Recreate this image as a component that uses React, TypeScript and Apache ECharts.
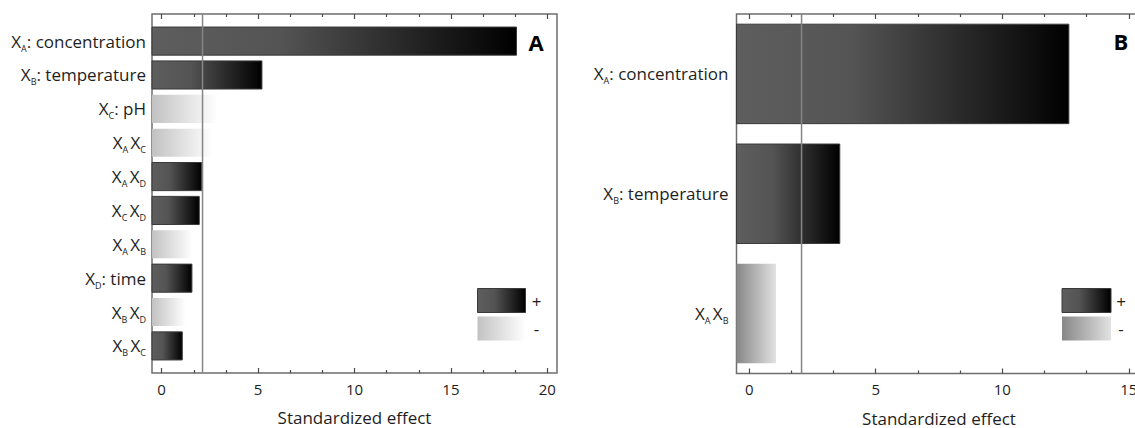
import React, { useEffect, useRef } from "react";
import * as echarts from "echarts";

// ---------- data ----------
const labelsA = [
  "X{s|A}: concentration",
  "X{s|B}: temperature",
  "X{s|C}: pH",
  "X{s|A }X{s|C}",
  "X{s|A }X{s|D}",
  "X{s|C }X{s|D}",
  "X{s|A }X{s|B}",
  "X{s|D}: time",
  "X{s|B }X{s|D}",
  "X{s|B }X{s|C}",
];
const valuesA = [18.4, 5.2, 2.9, 2.65, 2.08, 1.95, 1.62, 1.57, 1.25, 1.07];
const signsA = ["+", "+", "-", "-", "+", "+", "-", "+", "-", "+"];
const refA = 2.12;

const labelsB = ["X{s|A}: concentration", "X{s|B}: temperature", "X{s|A }X{s|B}"];
const valuesB = [12.63, 3.58, 1.06];
const signsB = ["+", "+", "-"];
const refB = 2.07;

const majorTicksA = [0, 5, 10, 15, 20];
const minorTicksA = [1.667, 3.333, 6.667, 8.333, 11.667, 13.333, 16.667, 18.333];
const majorTicksB = [0, 5, 10, 15];
const minorTicksB = [1.667, 3.333, 6.667, 8.333, 11.667, 13.333];

const axisTitle = "Standardized effect";

// ---------- styles ----------
const FONT = "'Open Sans', 'DejaVu Sans', sans-serif";
const TEXT = "#1e1e1e";
const FRAME = "#6e6e6e";
const BAR_H = 0.83;

const darkStops = [
  { offset: 0, color: "#5e5e5e" },
  { offset: 0.35, color: "#545454" },
  { offset: 1, color: "#000000" },
];
const lightStopsA = [
  { offset: 0, color: "#c2c2c2" },
  { offset: 1, color: "#ffffff" },
];
const lightStopsB = [
  { offset: 0, color: "#878787" },
  { offset: 1, color: "#e2e2e2" },
];

function grad(stops: any[]) {
  return new echarts.graphic.LinearGradient(0, 0, 1, 0, stops);
}

function makeRender(xMin: number, signs: string[], lightStops: any[]) {
  return (params: any, api: any) => {
    const v = api.value(0);
    const i = api.value(1);
    const p0 = api.coord([xMin, i]);
    const p1 = api.coord([v, i]);
    const h = api.size([0, BAR_H])[1];
    const pos = signs[params.dataIndex] === "+";
    return {
      type: "rect",
      shape: { x: p0[0], y: p0[1] - h / 2, width: p1[0] - p0[0], height: h },
      style: {
        fill: grad(pos ? darkStops : lightStops),
        stroke: pos ? "#3a3a3a" : "none",
        lineWidth: pos ? 1 : 0,
      },
    };
  };
}

function xAxes(grid: number, min: number, max: number, major: number[], minor: number[]) {
  const base = {
    gridIndex: grid,
    type: "value",
    min,
    max,
    axisLine: { show: false, onZero: false },
    splitLine: { show: false },
  };
  const tickStyle = { color: "#4a4a4a", width: 1.2 };
  return [
    {
      ...base,
      position: "bottom",
      axisTick: { show: true, inside: true, length: 5, customValues: major, lineStyle: tickStyle },
      axisLabel: {
        show: true,
        customValues: major,
        fontSize: 15,
        fontFamily: FONT,
        color: TEXT,
        margin: 8,
      },
      name: axisTitle,
      nameLocation: "middle",
      nameGap: 36,
      nameTextStyle: { fontSize: 17, fontFamily: FONT, color: TEXT },
    },
    {
      ...base,
      position: "bottom",
      axisTick: { show: true, inside: true, length: 3, customValues: minor, lineStyle: tickStyle },
      axisLabel: { show: false },
    },
    {
      ...base,
      position: "top",
      axisTick: { show: true, inside: true, length: 5, customValues: major, lineStyle: tickStyle },
      axisLabel: { show: false },
    },
    {
      ...base,
      position: "top",
      axisTick: { show: true, inside: true, length: 3, customValues: minor, lineStyle: tickStyle },
      axisLabel: { show: false },
    },
  ];
}

function yAxis(grid: number, min: number, max: number, labels: string[], margin: number) {
  const idx = labels.map((_, i) => i);
  return {
    gridIndex: grid,
    type: "value",
    min,
    max,
    inverse: true,
    axisLine: { show: false, onZero: false },
    axisTick: { show: false },
    splitLine: { show: false },
    axisLabel: {
      show: true,
      customValues: idx,
      formatter: (v: number) => labels[Math.round(v)] ?? "",
      fontSize: 17,
      fontFamily: FONT,
      color: TEXT,
      lineHeight: 23,
      margin,
      rich: {
        s: {
          fontSize: 9,
          fontFamily: FONT,
          color: TEXT,
          lineHeight: 10,
          verticalAlign: "bottom",
        },
      },
    },
  };
}

function legend(x: number, w: number, lightStops: any[], textX: number) {
  return [
    {
      type: "rect",
      shape: { x, y: 288.5, width: w, height: 24 },
      style: { fill: grad(darkStops), stroke: "#3a3a3a", lineWidth: 1 },
    },
    {
      type: "rect",
      shape: { x, y: 316.5, width: w, height: 24 },
      style: { fill: grad(lightStops) },
    },
    {
      type: "text",
      x: textX,
      y: 301,
      style: { text: "+", fontSize: 17, fontFamily: FONT, fill: TEXT, align: "center", verticalAlign: "middle" },
    },
    {
      type: "text",
      x: textX,
      y: 328,
      style: { text: "-", fontSize: 17, fontFamily: FONT, fill: TEXT, align: "center", verticalAlign: "middle" },
    },
  ];
}

export default function App() {
  const ref = useRef<HTMLDivElement>(null);

  useEffect(() => {
    document.body.style.margin = "0";
    if (!ref.current) return;
    const chart = echarts.init(ref.current, null, { renderer: "svg" });

    const dataA = valuesA.map((v, i) => [v, i]);
    const dataB = valuesB.map((v, i) => [v, i]);
    const yMinA = -0.8, yMaxA = labelsA.length - 1 + 0.8;
    const yMinB = -0.5, yMaxB = labelsB.length - 1 + 0.5;

    chart.setOption({
      animation: false,
      backgroundColor: "#ffffff",
      grid: [
        {
          left: 152, top: 14, width: 405, height: 359,
          show: true, borderColor: FRAME, borderWidth: 1.5, backgroundColor: "transparent",
          containLabel: false, outerBoundsMode: "none",
        },
        {
          left: 736.5, top: 14, width: 405, height: 359.5,
          show: true, borderColor: FRAME, borderWidth: 1.5, backgroundColor: "transparent",
          containLabel: false, outerBoundsMode: "none",
        },
      ],
      xAxis: [
        ...xAxes(0, -0.5, 20.5, majorTicksA, minorTicksA),
        ...xAxes(1, -0.5, 15.5, majorTicksB, minorTicksB),
      ],
      yAxis: [yAxis(0, yMinA, yMaxA, labelsA, 6), yAxis(1, yMinB, yMaxB, labelsB, 8)],
      series: [
        {
          type: "custom",
          name: "A",
          xAxisIndex: 0,
          yAxisIndex: 0,
          encode: { x: 0, y: 1 },
          data: dataA,
          renderItem: makeRender(-0.5, signsA, lightStopsA),
          silent: true,
        },
        {
          type: "line",
          xAxisIndex: 0,
          yAxisIndex: 0,
          data: [[refA, yMinA], [refA, yMaxA]],
          symbol: "none",
          lineStyle: { color: "#858585", width: 1.5 },
          silent: true,
        },
        {
          type: "custom",
          name: "B",
          xAxisIndex: 4,
          yAxisIndex: 1,
          encode: { x: 0, y: 1 },
          data: dataB,
          renderItem: makeRender(-0.5, signsB, lightStopsB),
          silent: true,
        },
        {
          type: "line",
          xAxisIndex: 4,
          yAxisIndex: 1,
          data: [[refB, yMinB], [refB, yMaxB]],
          symbol: "none",
          lineStyle: { color: "#858585", width: 1.5 },
          silent: true,
        },
      ],
      graphic: [
        {
          type: "text",
          x: 536,
          y: 42,
          style: { text: "A", fontSize: 22, fontWeight: "bold", fontFamily: FONT, fill: "#000", align: "center", verticalAlign: "middle" },
        },
        {
          type: "text",
          x: 1121,
          y: 41,
          style: { text: "B", fontSize: 22, fontWeight: "bold", fontFamily: FONT, fill: "#000", align: "center", verticalAlign: "middle" },
        },
        ...legend(477.5, 48, lightStopsA, 536.5),
        ...legend(1062, 49, lightStopsB, 1121),
      ],
    });

    return () => chart.dispose();
  }, []);

  return <div ref={ref} style={{ width: 1135, height: 428 }} />;
}
